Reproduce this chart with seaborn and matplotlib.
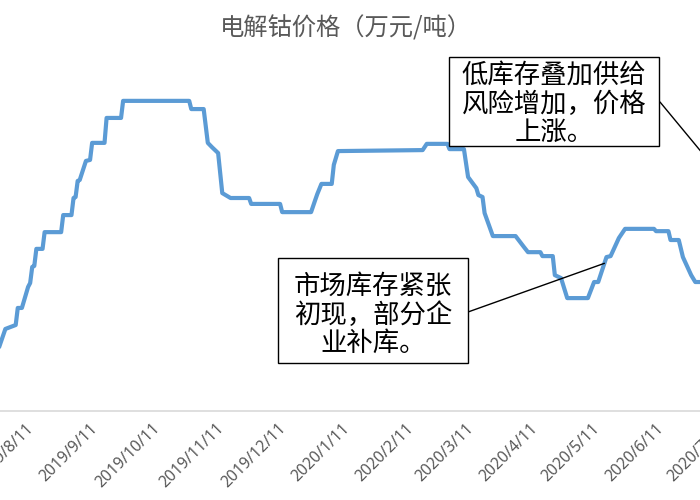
import matplotlib
matplotlib.use("Agg")
import matplotlib.pyplot as plt
import matplotlib.dates as mdates
from matplotlib.patches import Rectangle
from matplotlib.ticker import FuncFormatter, FixedLocator
import seaborn as sns
import pandas as pd

# ---- data ----
dates = [
    "2019-07-29", "2019-08-01", "2019-08-06", "2019-08-07", "2019-08-09", "2019-08-12",
    "2019-08-13", "2019-08-14", "2019-08-15", "2019-08-16", "2019-08-19", "2019-08-20",
    "2019-08-28", "2019-08-29", "2019-09-02", "2019-09-03", "2019-09-04", "2019-09-05",
    "2019-09-06", "2019-09-09", "2019-09-11", "2019-09-12", "2019-09-18", "2019-09-19",
    "2019-09-26", "2019-09-27", "2019-10-29", "2019-10-30", "2019-11-05", "2019-11-07",
    "2019-11-09", "2019-11-12", "2019-11-13", "2019-11-14", "2019-11-18", "2019-11-27",
    "2019-11-28", "2019-12-12", "2019-12-13", "2019-12-27", "2019-12-29", "2019-12-30",
    "2020-01-01", "2020-01-06", "2020-01-07", "2020-01-09", "2020-02-19", "2020-02-21",
    "2020-03-02", "2020-03-03", "2020-03-10", "2020-03-12", "2020-03-16", "2020-03-17",
    "2020-03-19", "2020-03-20", "2020-03-24", "2020-04-04", "2020-04-08", "2020-04-10",
    "2020-04-16", "2020-04-17", "2020-04-22", "2020-04-23", "2020-04-26", "2020-04-29",
    "2020-05-09", "2020-05-12", "2020-05-14", "2020-05-18", "2020-05-20", "2020-05-24",
    "2020-05-27", "2020-06-10", "2020-06-11", "2020-06-17", "2020-06-18", "2020-06-22",
    "2020-06-24", "2020-06-28", "2020-06-30", "2020-07-08",
]
prices = [
    22.95, 23.50, 23.62, 24.14, 24.14, 24.78,
    24.90, 25.39, 25.42, 25.94, 25.94, 26.45,
    26.45, 26.97, 26.97, 27.49, 27.52, 28.01,
    28.04, 28.62, 28.65, 29.17, 29.17, 29.93,
    29.93, 30.45, 30.45, 30.20, 30.20, 29.17,
    29.04, 28.86, 28.25, 27.64, 27.49, 27.49,
    27.31, 27.31, 27.06, 27.06, 27.43, 27.61,
    27.92, 27.92, 28.50, 28.92, 28.95, 29.14,
    29.14, 28.98, 28.98, 28.13, 27.79, 27.58,
    27.52, 27.03, 26.33, 26.33, 26.00, 25.84,
    25.84, 25.72, 25.72, 25.14, 25.05, 24.44,
    24.44, 24.93, 24.93, 25.69, 25.72, 26.27,
    26.55, 26.55, 26.48, 26.48, 26.21, 26.21,
    25.69, 25.14, 24.93, 24.93,
]
tick_dates = ["2019-08-11", "2019-09-11", "2019-10-11", "2019-11-11", "2019-12-11",
              "2020-01-11", "2020-02-11", "2020-03-11", "2020-04-11", "2020-05-11",
              "2020-06-11", "2020-07-11"]
title = "电解钴价格（万元/吨）"
note1 = "市场库存紧张\n初现，部分企\n业补库。"
note2 = "低库存叠加供给\n风险增加，价格\n上涨。"
note1_target = ("2020-05-17", 25.5)
note2_target = ("2020-07-16", 27.9)

df = pd.DataFrame({"date": pd.to_datetime(dates), "price": prices})

sns.set_style("white")
plt.rcParams["font.family"] = ["Noto Sans CJK SC", "DejaVu Sans"]

fig = plt.figure(figsize=(7, 5), dpi=100)
# axes run slightly past the right edge of the canvas, as in the cropped reference
ax = fig.add_axes([0.0, 0.178, 730 / 700, 0.722])

sns.lineplot(data=df, x="date", y="price", ax=ax, color="#5B9BD5", linewidth=3,
             solid_joinstyle="round", solid_capstyle="round")

x_left = pd.Timestamp("2019-08-11") - pd.Timedelta(days=12.6)
x_right = pd.Timestamp("2020-06-11") + pd.Timedelta(days=35.8)
ax.set_xlim(x_left, x_right)
ax.set_ylim(21.0, 32.0)

ticks = [mdates.date2num(pd.Timestamp(t)) for t in tick_dates]
ax.xaxis.set_major_locator(FixedLocator(ticks))
ax.xaxis.set_major_formatter(FuncFormatter(
    lambda v, p: (lambda d: f"{d.year}/{d.month}/{d.day}")(mdates.num2date(v))))
for lab in ax.get_xticklabels():
    lab.set_rotation(45)
    lab.set_ha("right")
    lab.set_rotation_mode("anchor")
ax.tick_params(axis="x", which="major", direction="out", length=4, width=1,
               color="#D9D9D9", labelcolor="#595959", labelsize=11.3, pad=3)
plt.setp(ax.get_xticklabels(), family=["Noto Sans", "DejaVu Sans"])
ax.set_yticks([])
ax.set_xlabel("")
ax.set_ylabel("")
for s in ["top", "left", "right"]:
    ax.spines[s].set_visible(False)
ax.spines["bottom"].set_color("#D9D9D9")
ax.spines["bottom"].set_linewidth(1.2)

fig.text(346 / 700, 1 - 28 / 500, title, ha="center", va="center",
         fontsize=17.5, color="#595959")

# annotation boxes (figure pixel coordinates)
for (x0, y0, w, h) in [(278, 137, 190, 105), (449, 354, 210, 89)]:
    fig.patches.append(Rectangle((x0, y0), w, h, transform=None, fill=True,
                                 facecolor="white", edgecolor="black", linewidth=1,
                                 zorder=5))
fig.text(373, 185, note1, transform=None, ha="center", va="center",
         multialignment="center", fontsize=19, linespacing=1.08, color="black", zorder=6)
fig.text(554, 396, note2, transform=None, ha="center", va="center",
         multialignment="center", fontsize=19, linespacing=1.08, color="black", zorder=6)

ax.annotate("", xy=(pd.Timestamp(note1_target[0]), note1_target[1]), xycoords="data",
            xytext=(468, 188), textcoords="figure pixels",
            arrowprops=dict(arrowstyle="-", color="black", lw=1, shrinkA=0, shrinkB=0),
            annotation_clip=False)
ax.annotate("", xy=(pd.Timestamp(note2_target[0]), note2_target[1]), xycoords="data",
            xytext=(660, 398), textcoords="figure pixels",
            arrowprops=dict(arrowstyle="-", color="black", lw=1, shrinkA=0, shrinkB=0),
            annotation_clip=False)

fig.savefig("out.png", dpi=100)
